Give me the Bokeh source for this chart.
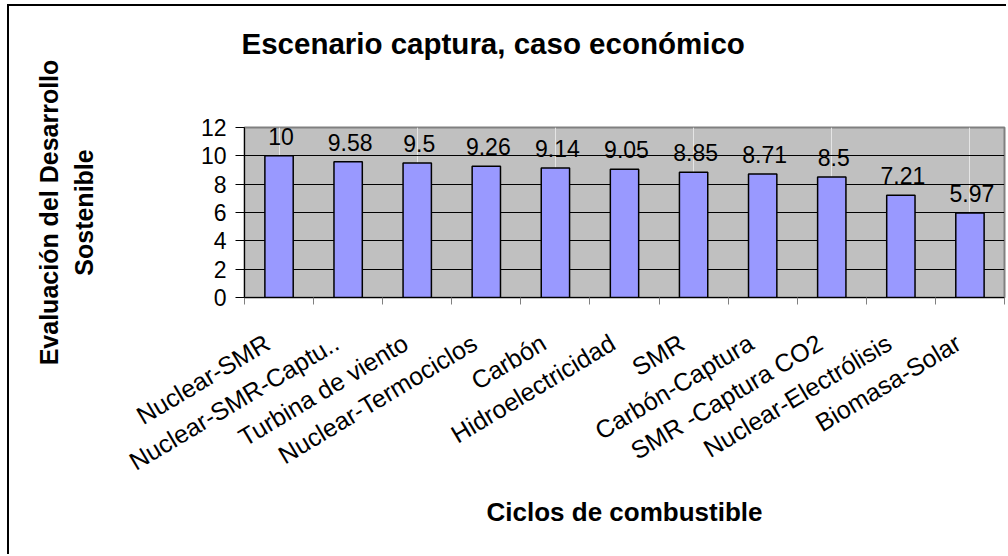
from bokeh.plotting import figure
from bokeh.models import (Range1d, LinearAxis, FixedTicker,
                          ColumnDataSource, LabelSet, Grid, Title)
from bokeh.core.properties import value
from bokeh.embed import file_html
from bokeh.resources import INLINE

# --- data -------------------------------------------------------------
categories = [
    "Nuclear-SMR", "Nuclear-SMR-Captu..", "Turbina de viento",
    "Nuclear-Termociclos", "Carbón", "Hidroelectricidad", "SMR",
    "Carbón-Captura", "SMR -Captura CO2", "Nuclear-Electrólisis",
    "Biomasa-Solar",
]
scores = [10, 9.58, 9.5, 9.26, 9.14, 9.05, 8.85, 8.71, 8.5, 7.21, 5.97]
y_ticks = [0, 2, 4, 6, 8, 10, 12]

title_text = "Escenario captura, caso económico"
x_title = "Ciclos de combustible"
y_title = "Evaluación del Desarrollo\nSostenible"

FONT = "Liberation Sans"
n = len(categories)
slot = list(range(n))          # category slot index on the x scale

# --- figure -----------------------------------------------------------
p = figure(
    width=999, height=550,
    x_range=Range1d(-0.5, n - 0.5),
    y_range=Range1d(0, 12),
    output_backend="svg", toolbar_location=None,
    x_axis_location=None, y_axis_location=None,
    min_border_left=235, min_border_right=4,
    min_border_top=121, min_border_bottom=259,
    background_fill_color="#C0C0C0", border_fill_color="white",
    outline_line_color="#808080", outline_line_width=2,
    styles={"margin-left": "7px", "margin-top": "4px",
            "border-left": "2px solid black", "border-top": "2px solid black"},
)

# horizontal gridlines at every value tick
p.add_layout(Grid(dimension=1, ticker=FixedTicker(ticks=y_ticks),
                  grid_line_color="black", grid_line_width=1))

src = ColumnDataSource(dict(slot=slot, cat=categories, score=scores,
                            txt=[f"{v:g}" for v in scores]))

# bars
p.vbar(x="slot", top="score", width=0.41, source=src, fill_color="#9999FF",
       line_color="black", line_width=1.5)

# value labels above the bars
p.add_layout(LabelSet(x="slot", y="score", text="txt", source=src,
                      text_align="center", text_baseline="alphabetic",
                      x_offset=2, y_offset=11,
                      text_font=value(FONT), text_font_size=value("23px"),
                      text_color="black"))

# --- value axis -------------------------------------------------------
yaxis = LinearAxis(
    ticker=FixedTicker(ticks=y_ticks, minor_ticks=[]),
    major_tick_out=9, major_tick_in=0, minor_tick_out=0, minor_tick_in=0,
    axis_line_color="black", axis_line_width=1,
    major_tick_line_color="black",
    major_label_text_font=FONT, major_label_text_font_size="23px",
    major_label_text_color="black", major_label_standoff=9,
    axis_label=y_title, axis_label_text_font=FONT,
    axis_label_text_font_style="bold", axis_label_text_font_size="25px",
    axis_label_text_color="black",
    axis_label_standoff=100, axis_label_text_line_height=1.25,
)
p.add_layout(yaxis, "left")

# --- category axis: labels nudged left, ticks on category boundaries ----
shift = 0.17
p.extra_x_ranges = {"lbl": Range1d(-0.5 + shift, n - 0.5 + shift)}
bounds = [k - 0.5 + shift for k in range(n + 1)]
xaxis = LinearAxis(
    x_range_name="lbl",
    ticker=FixedTicker(ticks=slot, minor_ticks=bounds),
    major_label_overrides={i: c for i, c in enumerate(categories)},
    major_tick_out=0, major_tick_in=0,
    minor_tick_out=7, minor_tick_in=0, minor_tick_line_color="#808080",
    axis_line_color="black", axis_line_width=1,
    major_label_orientation=0.54, major_label_standoff=36,
    major_label_text_font=FONT, major_label_text_font_size="25px",
    major_label_text_color="black",
    axis_label=x_title, axis_label_text_font=FONT,
    axis_label_text_font_style="bold", axis_label_text_font_size="26px",
    axis_label_text_color="black",
    axis_label_standoff=7,
)
p.add_layout(xaxis, "below")

# --- chart title; a blank spacer title keeps it clear of the frame -----
p.add_layout(Title(text=" ", text_font_size="1px", standoff=65), "above")
p.title.text = title_text
p.title.text_font = FONT
p.title.text_font_style = "bold"
p.title.text_font_size = "29.5px"
p.title.text_color = "black"
p.title.align = "left"
p.title.offset = -3
p.title.standoff = 0

open("out.html", "w").write(file_html(p, INLINE))
